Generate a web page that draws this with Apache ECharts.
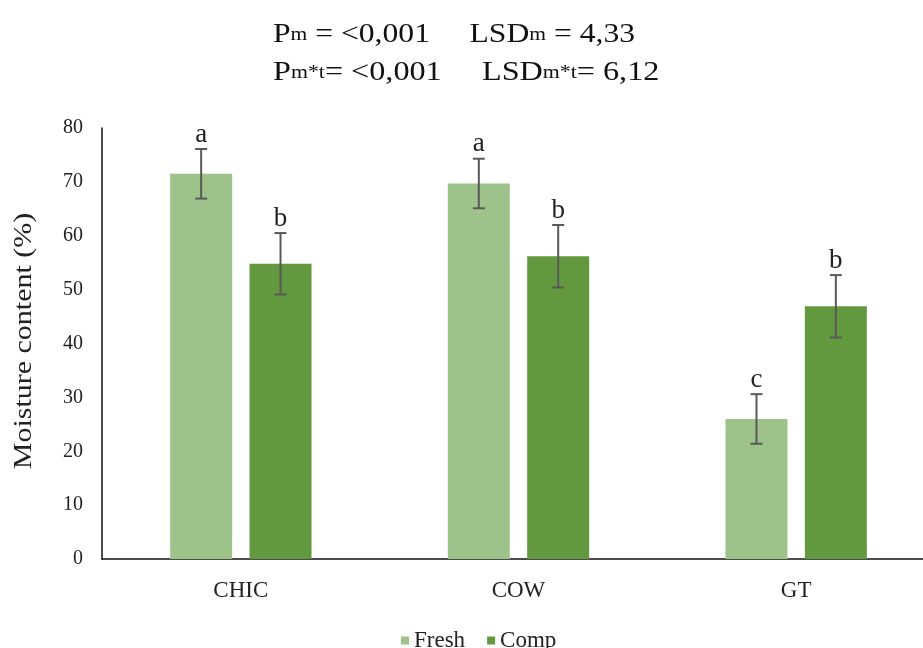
<!DOCTYPE html>
<html>
<head>
<meta charset="utf-8">
<script src="https://cdn.jsdelivr.net/npm/echarts@6/dist/echarts.min.js"></script>
<style>
html,body{margin:0;padding:0;background:#fff;overflow:hidden;}
#chart{width:935px;height:648px;}
</style>
</head>
<body>
<div id="chart"></div>
<script>
const categories = ['CHIC', 'COW', 'GT'];
const freshValues = [71.5, 69.7, 26.0];
const compValues = [54.8, 56.2, 46.9];
const freshErrors = [4.6, 4.6, 4.6];
const compErrors = [5.7, 5.8, 5.8];
const freshLetters = ['a', 'a', 'c'];
const compLetters = ['b', 'b', 'b'];
const yTicks = [0, 10, 20, 30, 40, 50, 60, 70, 80];
const yAxisTitle = 'Moisture content (%)';
const titleLine1 = '{p|P}{s|m}{p| = <0,001     LSD}{s|m}{p| = 4,33}';
const titleLine2 = '{p|P}{s|m*t}{p|= <0,001     LSD}{s|m*t}{p|= 6,12}';

const FONT = 'Liberation Serif';
const BAR_W = 62;
const BAR_GAP = 0.28;
const OFFSET = (BAR_W + BAR_W * BAR_GAP) / 2;

function errData(vals, errs, letters) {
  return vals.map((v, i) => [i, v, errs[i], letters[i]]);
}

function makeRender(sign) {
  return function (params, api) {
    const i = api.value(0), v = api.value(1), e = api.value(2);
    const letter = api.value(3);
    const top = api.coord([i, v + e]);
    const bot = api.coord([i, v - e]);
    const x = top[0] + sign * OFFSET;
    const cap = 6;
    const st = { stroke: '#595959', lineWidth: 2 };
    return {
      type: 'group',
      children: [
        { type: 'line', shape: { x1: x, y1: top[1], x2: x, y2: bot[1] }, style: st },
        { type: 'line', shape: { x1: x - cap, y1: top[1], x2: x + cap, y2: top[1] }, style: st },
        { type: 'line', shape: { x1: x - cap, y1: bot[1], x2: x + cap, y2: bot[1] }, style: st },
        { type: 'text', x: x, y: top[1] - 1, style: { text: letter, fill: '#222', font: '27px "' + FONT + '"', align: 'center', verticalAlign: 'bottom' } }
      ]
    };
  };
}

const rich = {
  p: { fontFamily: FONT, fontSize: 28, fontWeight: 'normal', fill: '#111' },
  s: { fontFamily: FONT, fontSize: 19, fontWeight: 'normal', fill: '#111' }
};

const chart = echarts.init(document.getElementById('chart'));
chart.setOption({
  animation: false,
  backgroundColor: '#fff',
  graphic: [
    {
      type: 'text', x: 273, y: 35, scaleX: 1.13,
      style: { text: titleLine1, rich: rich, fill: '#111', font: '28px "' + FONT + '"', align: 'left', verticalAlign: 'middle' }
    },
    {
      type: 'text', x: 273, y: 73, scaleX: 1.15,
      style: { text: titleLine2, rich: rich, fill: '#111', font: '28px "' + FONT + '"', align: 'left', verticalAlign: 'middle' }
    },
    {
      type: 'text',
      x: 24, y: 341,
      rotation: Math.PI / 2,
      scaleX: 1.2,
      style: { text: yAxisTitle, fill: '#222', font: '25px "' + FONT + '"', align: 'center', verticalAlign: 'middle' }
    }
  ],
  legend: {
    data: ['Fresh', 'Comp'],
    top: 624,
    left: 396,
    icon: 'rect',
    itemWidth: 8,
    itemHeight: 8,
    itemGap: 22,
    textStyle: { fontFamily: FONT, fontSize: 23, color: '#222' }
  },
  grid: { left: 102, right: 0, top: 128, bottom: 89, containLabel: false },
  xAxis: {
    type: 'category',
    data: categories,
    axisLine: { lineStyle: { color: '#111', width: 1.5 } },
    axisTick: { show: false },
    axisLabel: { fontFamily: FONT, fontSize: 23, color: '#222', margin: 20 }
  },
  yAxis: {
    type: 'value',
    min: yTicks[0],
    max: yTicks[yTicks.length - 1],
    interval: 10,
    axisLine: { show: true, lineStyle: { color: '#111', width: 1.5 } },
    axisTick: { show: false },
    splitLine: { show: false },
    axisLabel: { fontFamily: FONT, fontSize: 20, color: '#222', margin: 19 }
  },
  series: [
    { name: 'Fresh', type: 'bar', data: freshValues, barWidth: BAR_W, barGap: (BAR_GAP * 100) + '%', itemStyle: { color: '#9DC38B' } },
    { name: 'Comp', type: 'bar', data: compValues, barWidth: BAR_W, itemStyle: { color: '#62993E' } },
    { name: 'FreshErr', type: 'custom', data: errData(freshValues, freshErrors, freshLetters), renderItem: makeRender(-1), encode: { x: 0, y: 1 }, z: 10, clip: false, silent: true },
    { name: 'CompErr', type: 'custom', data: errData(compValues, compErrors, compLetters), renderItem: makeRender(1), encode: { x: 0, y: 1 }, z: 10, clip: false, silent: true }
  ]
});
</script>
</body>
</html>
